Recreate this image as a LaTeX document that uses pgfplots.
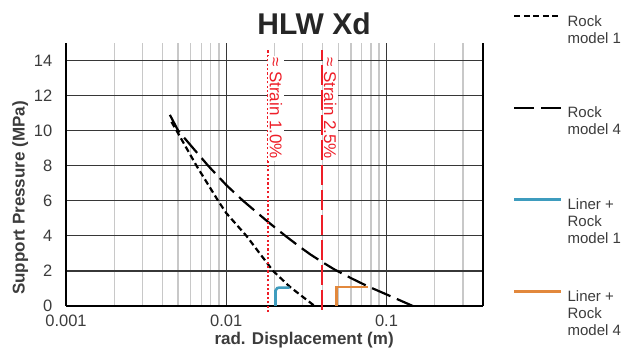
\documentclass[border=0pt]{standalone}
\usepackage{pgfplots}
\pgfplotsset{compat=1.18}
\usepackage{fontspec}
\setmainfont{Liberation Sans}
\definecolor{strainred}{RGB}{238,30,40}
\definecolor{linerblue}{RGB}{62,156,190}
\definecolor{linerorange}{RGB}{226,136,60}
\definecolor{gridmajor}{RGB}{55,55,55}
\definecolor{gridminor}{RGB}{200,200,200}
\definecolor{labelgray}{RGB}{60,60,60}
\newcommand{\lgfont}{\fontsize{15}{17}\selectfont}
\newcommand{\lgtwo}[2]{\lgfont\vtop{\baselineskip=17pt\hbox{#1}\hbox{#2}}}
\newcommand{\lgthree}[3]{\lgfont\vtop{\baselineskip=17pt\hbox{#1}\hbox{#2}\hbox{#3}}}
\begin{document}
\begin{tikzpicture}
\path[use as bounding box] (0pt,0pt) rectangle (632pt,353pt);
\begin{axis}[
  at={(66pt,47pt)}, anchor=south west,
  scale only axis, width=417pt, height=263pt,
  xmode=log, log basis x=10,
  xmin=0.001, xmax=0.4, ymin=0, ymax=15,
  clip=false,
  axis x line*=bottom, axis y line*=box,
  axis line style={black, line width=1.3pt},
  xtick={0.001,0.01,0.1}, xticklabels={0.001,0.01,0.1},
  minor xtick={0.002,0.003,0.004,0.005,0.006,0.007,0.008,0.009,0.02,0.03,0.04,0.05,0.06,0.07,0.08,0.09,0.2,0.3},
  ytick={0,2,4,6,8,10,12,14},
  major tick length=0pt, minor tick length=0pt,
  xmajorgrids, xminorgrids, ymajorgrids,
  major grid style={gridmajor, line width=1.2pt},
  minor grid style={gridminor, line width=1.4pt},
  /pgf/number format/assume math mode=true,
  tick label style={font=\fontsize{16.5}{19}\selectfont, text=labelgray, inner sep=1pt},
  xticklabel style={yshift=-8pt},
  yticklabel style={xshift=-12.5pt},
  xlabel={rad. Displacement (m)},
  ylabel={Support Pressure (MPa)},
  label style={font=\fontsize{17}{20}\selectfont\bfseries, text=labelgray},
  xlabel style={at={(axis description cs:0.571,-0.131)}, anchor=center},
  ylabel style={at={(axis description cs:-0.110,0.411)}, anchor=center},
  legend cell align=left,
  legend style={at={(axis description cs:1.072,1.106)}, anchor=north west,
    draw=none, fill=none, inner sep=0pt, outer sep=0pt,
    row sep=79pt, column sep=5pt,
    nodes={inner sep=0pt, outer sep=0pt, text=labelgray},
    font=\lgfont},
  legend image code/.code={\draw[#1] (0pt,5.4pt) -- (47pt,5.4pt);},
]
% Rock model 1
\addplot[black, line width=2.2pt, dash pattern=on 6pt off 3.5pt] coordinates {
 (0.00455,10.5) (0.0049,10.0) (0.00652,8.0) (0.0089,6.0) (0.01,5.3)
 (0.01336,4.0) (0.0196,2.0) (0.0249,1.1) (0.0356,0)};
\addlegendentry{\lgtwo{Rock}{model 1}}
% Rock model 4
\addplot[black, line width=2.2pt, dash pattern=on 20pt off 7pt] coordinates {
 (0.00445,10.9) (0.00501,10.0) (0.00771,8.0) (0.01,6.9) (0.01274,6.0)
 (0.0182,4.8) (0.0234,4.0) (0.0285,3.40) (0.0335,2.94) (0.0398,2.50) (0.0474,2.08)
 (0.06,1.59) (0.0765,1.12) (0.0875,0.89) (0.1,0.66) (0.146,0)};
\addlegendentry{\lgtwo{Rock}{model 4}}
% Liner + Rock model 1
\addplot[linerblue, line width=2.6pt] coordinates {
 (0.0203,0) (0.0203,0.88) (0.0208,1.02) (0.0215,1.05) (0.0249,1.05)};
\addlegendentry{\lgthree{Liner +}{Rock}{model 1}}
% Liner + Rock model 4
\addplot[linerorange, line width=2.6pt] coordinates {
 (0.0486,0) (0.0486,1.08) (0.0765,1.08)};
\addlegendentry{\lgthree{Liner +}{Rock}{model 4}}
% strain lines
\addplot[strainred, line width=2.3pt, dash pattern=on 2.2pt off 2.2pt, forget plot] coordinates {(0.0182,-0.35) (0.0182,14.6)};
\addplot[strainred, line width=2.2pt, dash pattern=on 20pt off 5pt, forget plot] coordinates {(0.0398,-0.2) (0.0398,14.6)};
\node[rotate=-90, anchor=south west, fill=white, inner sep=1.5pt, text=strainred,
  font=\fontsize{17}{20}\selectfont, xshift=4.5pt] at (axis cs:0.0182,14.55) {≈ Strain 1.0\%};
\node[rotate=-90, anchor=south west, fill=white, inner sep=1.5pt, text=strainred,
  font=\fontsize{17}{20}\selectfont, xshift=4.5pt] at (axis cs:0.0398,14.55) {≈ Strain 2.5\%};
\end{axis}
\node[font=\fontsize{30}{34}\selectfont\bfseries, text=black!85] at (314pt,329pt) {HLW Xd};
\end{tikzpicture}
\end{document}
